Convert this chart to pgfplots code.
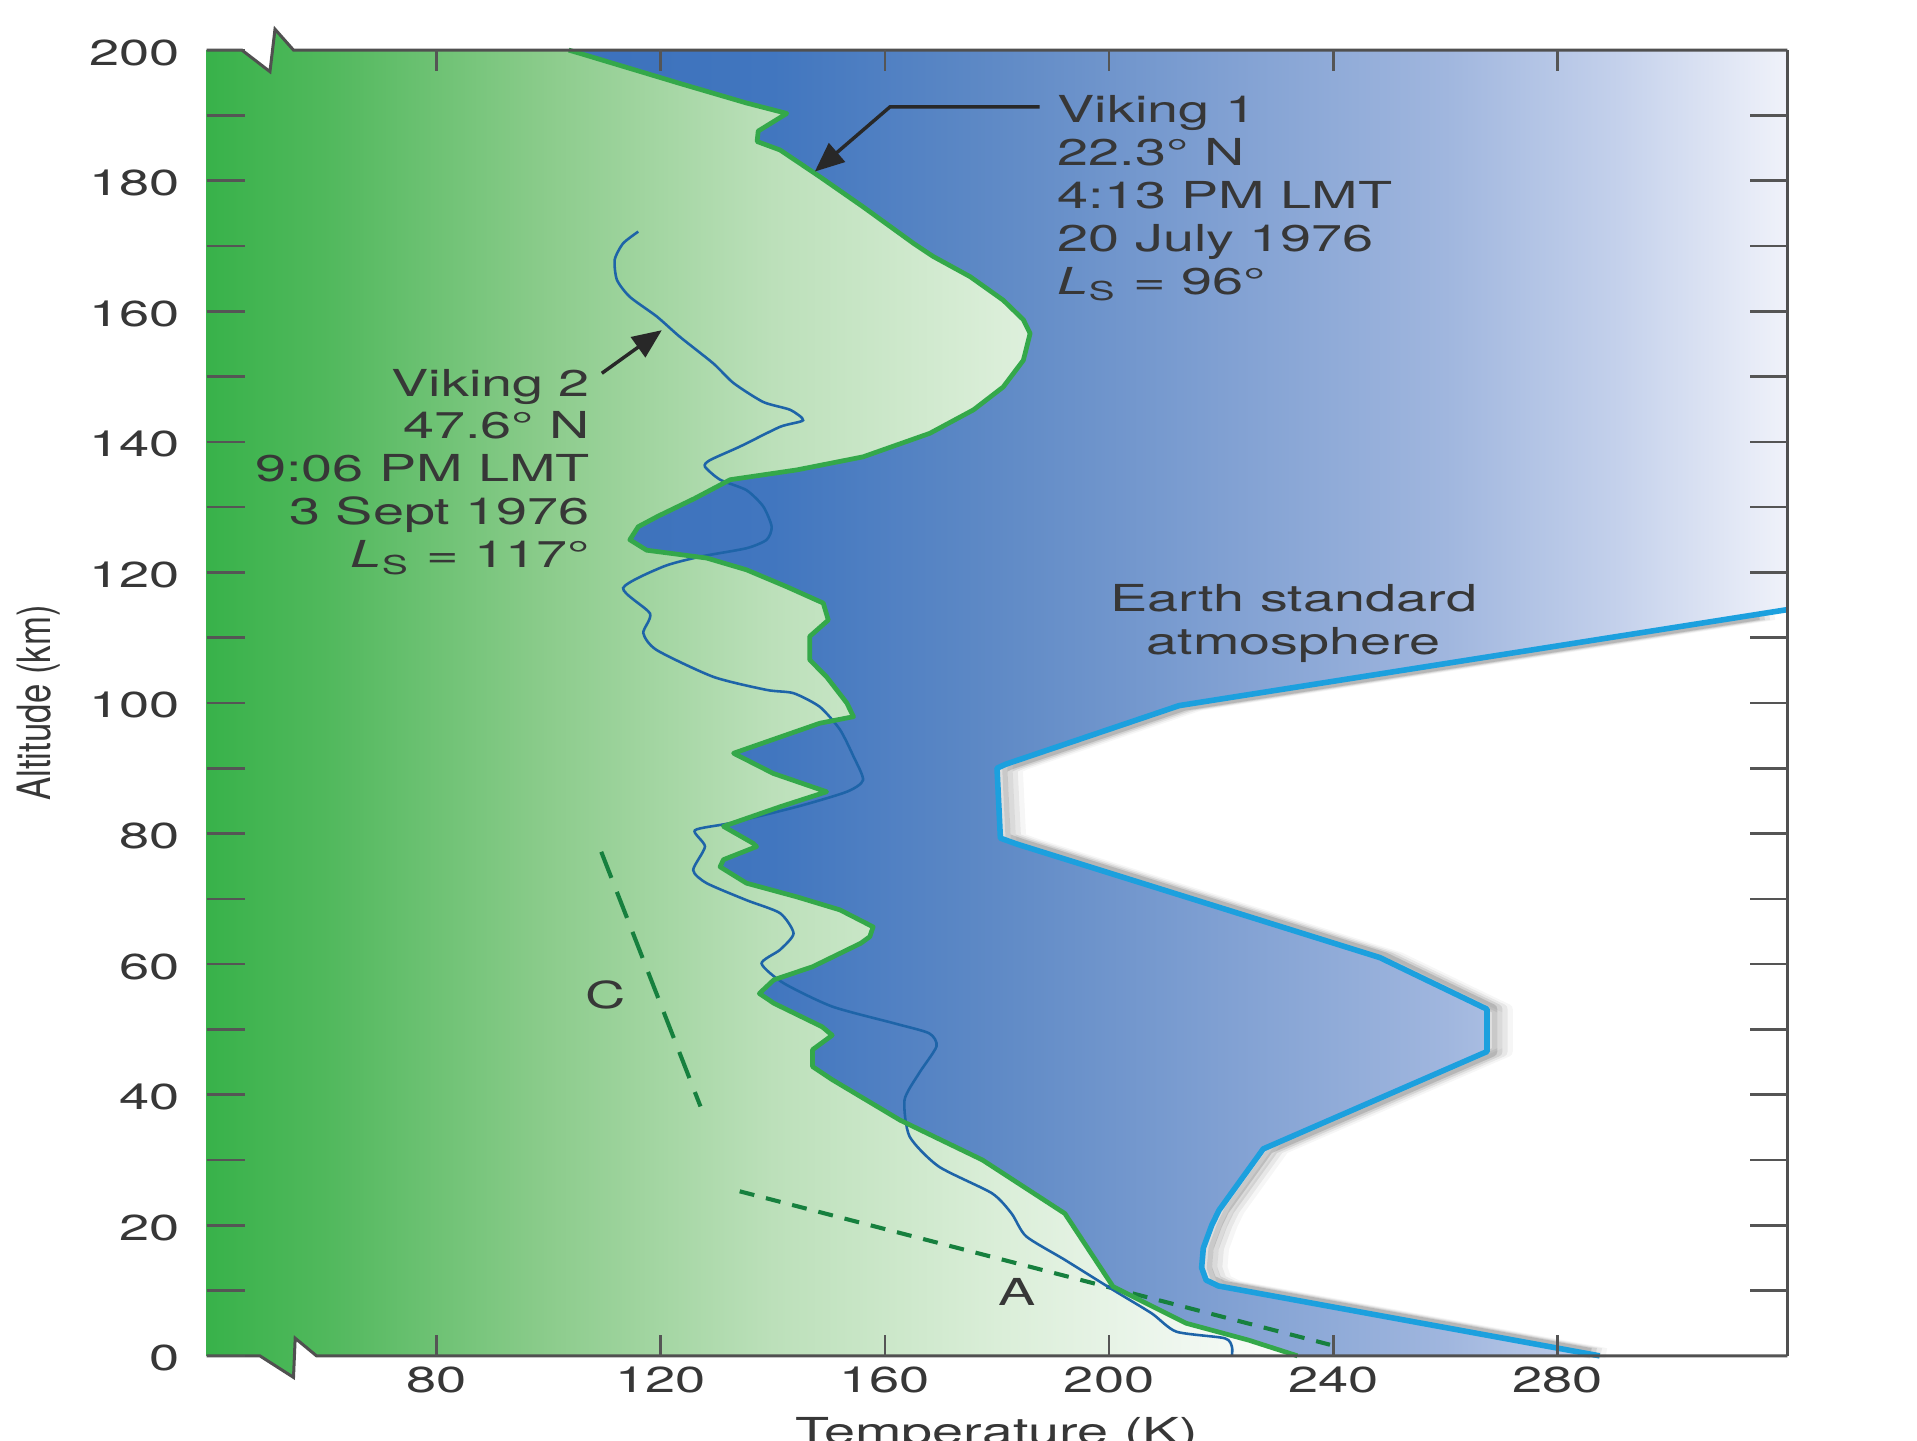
\documentclass[border=0pt]{standalone}
\usepackage{fontspec}
\setmainfont{TeX Gyre Heros}
\usepackage{pgfplots}
\usepackage{pgfplotstable}
\pgfplotsset{compat=1.18}
\usetikzlibrary{arrows.meta}

\definecolor{txt}{RGB}{55,55,55}
\definecolor{tickc}{RGB}{85,85,85}
\definecolor{framec}{RGB}{80,80,80}
\definecolor{vone}{RGB}{52,168,74}
\definecolor{vtwo}{RGB}{30,100,168}
\definecolor{earthc}{RGB}{28,160,222}
\definecolor{dashc}{RGB}{22,128,62}
\definecolor{arrc}{RGB}{40,40,40}

% green background: path bbox T in [39,321] -> 25bp..75bp
\pgfdeclarehorizontalshading{greenshade}{100bp}{%
rgb(0bp)=(0.220,0.698,0.290);
rgb(25bp)=(0.220,0.698,0.290);
rgb(28.72bp)=(0.314,0.722,0.361);
rgb(35.82bp)=(0.549,0.800,0.549);
rgb(42.91bp)=(0.737,0.878,0.729);
rgb(50bp)=(0.855,0.933,0.847);
rgb(56.21bp)=(0.941,0.969,0.941);
rgb(60.64bp)=(1,1,1);
rgb(100bp)=(1,1,1)}
% blue region: path bbox T in [103.6,321] -> 25bp..75bp
\pgfdeclarehorizontalshading{blueshade}{100bp}{%
rgb(0bp)=(0.235,0.443,0.737);
rgb(25bp)=(0.235,0.443,0.737);
rgb(33.37bp)=(0.255,0.463,0.749);
rgb(42.57bp)=(0.373,0.541,0.776);
rgb(51.77bp)=(0.502,0.627,0.824);
rgb(60.97bp)=(0.627,0.714,0.871);
rgb(67.87bp)=(0.765,0.816,0.922);
rgb(75bp)=(0.941,0.949,0.980);
rgb(100bp)=(0.941,0.949,0.980)}

\pgfplotstableread{
T A
233.6 0
224.9 2.4
213.7 5.0
200.7 10.6
196.4 16.2
192.1 21.8
177.4 30.0
162.7 36.1
150.6 42.3
147.1 44.3
147.1 46.9
150.6 49.1
148.8 50.4
140.2 54.0
137.6 55.5
140.2 57.6
147.1 59.6
155.7 63.2
157.3 64.2
157.9 65.7
152.0 68.3
144.3 70.3
135.3 72.4
130.6 74.9
131.2 76.0
137.1 78.0
136.5 78.5
131.2 81.1
141.3 84.1
149.6 86.4
140.1 89.2
133.0 92.3
148.4 96.9
154.4 97.9
153.2 100.0
149.6 104.0
146.6 106.6
146.6 110.2
149.9 112.7
149.0 115.3
142.5 117.8
135.3 120.4
128.2 122.2
117.5 123.4
114.5 125.0
116.0 127.0
119.5 128.6
126.0 131.3
132.4 134.2
144.3 135.7
156.1 137.7
168.0 141.3
175.8 144.9
181.1 148.4
184.7 152.5
185.9 156.6
184.7 158.7
181.1 161.7
175.2 165.3
168.6 168.4
165.1 170.4
156.1 176.0
148.4 180.6
141.3 184.7
137.2 186.0
137.4 187.6
142.5 190.3
135.3 191.9
123.4 194.9
105.6 199.5
103.6 200
}\vikone

\pgfplotstableread{
T A
233.6 0
224.9 2.4
213.7 5.0
200.7 10.6
196.4 16.2
192.1 21.8
177.4 30.0
162.7 36.1
150.6 42.3
147.1 44.3
147.1 46.9
150.6 49.1
148.8 50.4
140.2 54.0
137.6 55.5
140.2 57.6
147.1 59.6
155.7 63.2
157.3 64.2
157.9 65.7
152.0 68.3
144.3 70.3
135.3 72.4
130.6 74.9
131.2 76.0
137.1 78.0
136.5 78.5
131.2 81.1
141.3 84.1
149.6 86.4
140.1 89.2
133.0 92.3
148.4 96.9
154.4 97.9
153.2 100.0
149.6 104.0
146.6 106.6
146.6 110.2
149.9 112.7
149.0 115.3
142.5 117.8
135.3 120.4
128.2 122.2
117.5 123.4
114.5 125.0
116.0 127.0
119.5 128.6
126.0 131.3
132.4 134.2
144.3 135.7
156.1 137.7
168.0 141.3
175.8 144.9
181.1 148.4
184.7 152.5
185.9 156.6
184.7 158.7
181.1 161.7
175.2 165.3
168.6 168.4
165.1 170.4
156.1 176.0
148.4 180.6
141.3 184.7
137.2 186.0
137.4 187.6
142.5 190.3
135.3 191.9
123.4 194.9
105.6 199.5
103.6 200
321 200
321 114.3
212.5 99.6
181.5 90.6
180.0 90.0
180.6 79.3
183.5 78.4
248.3 61.0
267.4 53.1
267.4 46.6
227.5 31.7
219.6 22.3
218.3 20.0
216.8 16.5
216.5 13.5
217.3 11.6
219.5 10.7
287.5 0
}\bluepoly

\pgfplotstableread{
T A
221.9 0
221.9 1.4
220.6 2.7
212.0 3.7
207.6 6.5
200.7 10.1
192.1 14.7
185.2 18.3
182.6 21.8
179.1 24.9
169.6 29.0
164.4 33.6
163.5 39.2
166.1 43.3
169.2 47.4
167.9 49.4
161.8 50.9
150.6 53.5
141.9 57.1
138.0 60.1
141.3 62.2
143.7 64.7
141.3 67.8
135.3 69.8
128.2 72.4
125.8 74.4
127.9 78.0
126.1 80.5
132.4 81.6
144.3 84.1
153.2 86.4
156.1 88.2
154.4 91.8
152.0 95.9
148.4 99.4
143.7 101.5
138.9 102.0
129.4 104.0
119.3 108.1
116.9 110.7
118.1 113.7
113.3 117.6
120.5 120.9
127.0 122.4
135.3 123.7
138.9 125.0
139.8 127.0
138.3 130.1
135.3 132.6
130.6 134.2
127.9 136.2
128.8 137.2
134.2 139.3
141.3 142.3
145.4 143.3
143.1 144.9
138.3 146.1
133.0 149.0
129.4 152.0
123.4 156.1
119.3 159.2
114.5 162.2
112.2 164.8
111.8 167.9
113.3 170.4
116.0 172.2
}\viktwo

\pgfplotstableread{
T A
287.5 0
219.5 10.7
217.3 11.6
216.5 13.5
216.8 16.5
218.3 20.0
219.6 22.3
227.5 31.7
267.4 46.6
267.4 53.1
248.3 61.0
183.5 78.4
180.6 79.3
180.0 90.0
181.5 90.6
212.5 99.6
321 114.3
}\earth

\pgfplotstableread{
T A
287.5 0
219.5 10.7
217.3 11.6
216.5 13.5
216.8 16.5
218.3 20.0
219.6 22.3
227.5 31.7
267.4 46.6
267.4 53.1
248.3 61.0
183.5 78.4
180.6 79.3
180.0 90.0
181.5 90.6
212.5 99.6
321 114.3
321 0
}\whitepoly

\pgfplotstableread{
T A
285.0 0.4
219.5 10.7
217.3 11.6
216.5 13.5
216.8 16.5
218.3 20.0
219.6 22.3
227.5 31.7
267.4 46.6
267.4 53.1
248.3 61.0
183.5 78.4
180.6 79.3
180.0 90.0
181.5 90.6
212.5 99.6
315 113.5
}\earthsh

\newcommand\annofont{\fontsize{8.65}{10}\selectfont}
\newcommand\tickfont{\fontsize{8.4}{9.5}\selectfont}

\begin{document}
\begin{tikzpicture}[anno/.style={font=\annofont, text=txt, inner sep=0pt, xscale=1.5}]
\begin{axis}[
  scale only axis,
  width=12.93cm, height=10.68cm,
  xmin=39, xmax=321, ymin=0, ymax=200,
  clip=false,
  axis on top,
  axis line style={draw=none},
  xtick={80,120,...,280},
  ytick={0,20,...,200},
  minor y tick num=1,
  major tick length=0.31cm,
  minor tick length=0.31cm,
  tick style={color=tickc, line width=0.6pt},
  xtick style={/pgfplots/major tick length=0.17cm},
  /pgf/number format/assume math mode=true,
  xticklabel style={font=\tickfont, text=txt, xscale=1.5, anchor=north, inner sep=0pt, yshift=-0.08cm},
  yticklabel style={font=\tickfont, text=txt, xscale=1.5, anchor=east, inner sep=0pt, xshift=-0.14cm, yshift=-0.02cm},
]
% green background with axis breaks
\addplot[draw=none, shade, shading=greenshade] coordinates {
 (39,0) (48.5,0) (54.5,-3.3) (54.8,2.7) (58.6,0) (321,0) (321,200)
 (54.5,200) (51.2,203.2) (50.3,196.7) (45.3,200) (39,200)} -- cycle;
% white region beyond the Earth curve
\addplot[draw=none, fill=white] table {\whitepoly} -- cycle;
% shadow of the Earth curve
\addplot[black, opacity=0.13, line width=2.4pt, line join=round, xshift=1.2pt] table {\earthsh};
\addplot[black, opacity=0.09, line width=2.4pt, line join=round, xshift=2.4pt] table {\earthsh};
\addplot[black, opacity=0.06, line width=2.4pt, line join=round, xshift=3.6pt] table {\earthsh};
\addplot[black, opacity=0.035, line width=2.4pt, line join=round, xshift=4.8pt] table {\earthsh};
% blue region between Viking 1 and Earth standard atmosphere
\addplot[draw=none, shade, shading=blueshade] table {\bluepoly} -- cycle;
% adiabats
\addplot[dashc, line width=0.95pt, dash pattern=on 6.5pt off 3.5pt] coordinates {(109.4,77.2) (127.1,38.2)};
\addplot[dashc, line width=0.95pt, dash pattern=on 3.5pt off 2.8pt] coordinates {(134.1,25.2) (239.4,1.7)};
% profiles
\addplot[vtwo, line width=0.6pt, smooth, tension=0.4] table {\viktwo};
\addplot[vone, line width=1.1pt, line join=round] table {\vikone};
\addplot[earthc, line width=1.3pt, line join=round] table {\earth};
% frame with breaks
\draw[framec, line width=0.7pt] (axis cs:321,0) -- (axis cs:321,200);
\draw[framec, line width=0.7pt] (axis cs:39,200) -- (axis cs:45.3,200) -- (axis cs:50.3,196.7) -- (axis cs:51.2,203.2) -- (axis cs:54.5,200) -- (axis cs:321,200);
\draw[framec, line width=0.7pt] (axis cs:39,0) -- (axis cs:48.5,0) -- (axis cs:54.5,-3.3) -- (axis cs:54.8,2.7) -- (axis cs:58.6,0) -- (axis cs:321,0);
% annotations
\node[anno, anchor=north west, align=left] at (axis cs:190.6,193.2)
  {Viking 1\\22.3° N\\4:13 PM LMT\\20 July 1976\\{\itshape L}\textsubscript{S} = 96°};
\node[anno, anchor=north east, align=right] at (axis cs:107.6,151.3)
  {Viking 2\\47.6° N\\9:06 PM LMT\\3 Sept 1976\\{\itshape L}\textsubscript{S} = 117°};
\node[anno, anchor=north, align=center] at (axis cs:232.9,118.3) {Earth standard\\atmosphere};
\node[anno] at (axis cs:110.2,55.3) {C};
\node[anno] at (axis cs:183.6,9.8) {A};
\draw[arrc, line width=0.8pt, -{Triangle[length=0.24cm, width=0.2cm]}] (axis cs:187.6,191.3) -- (axis cs:160.9,191.3) -- (axis cs:147.5,181.4);
\draw[arrc, line width=0.8pt, -{Triangle[length=0.24cm, width=0.2cm]}] (axis cs:109.5,150.5) -- (axis cs:120.2,157.1);
\coordinate (BL) at (rel axis cs:0,0);
\coordinate (TR) at (rel axis cs:1,1);
\coordinate (LM) at (rel axis cs:0,0.5);
\coordinate (BM) at (rel axis cs:0.5,0);
\end{axis}
\node[font=\fontsize{8.1}{9.5}\selectfont, text=txt, inner sep=0pt, rotate=90, anchor=base] at ([xshift=-1.28cm]LM) {\scalebox{1}[1.32]{Altitude (km)}};
\node[anno, anchor=north] at ([yshift=-0.50cm]BM) {Temperature (K)};
\pgfresetboundingbox
\path[use as bounding box] ([xshift=-1.69cm,yshift=-0.69cm]BL) rectangle ([xshift=1.06cm,yshift=0.41cm]TR);
\end{tikzpicture}
\end{document}
